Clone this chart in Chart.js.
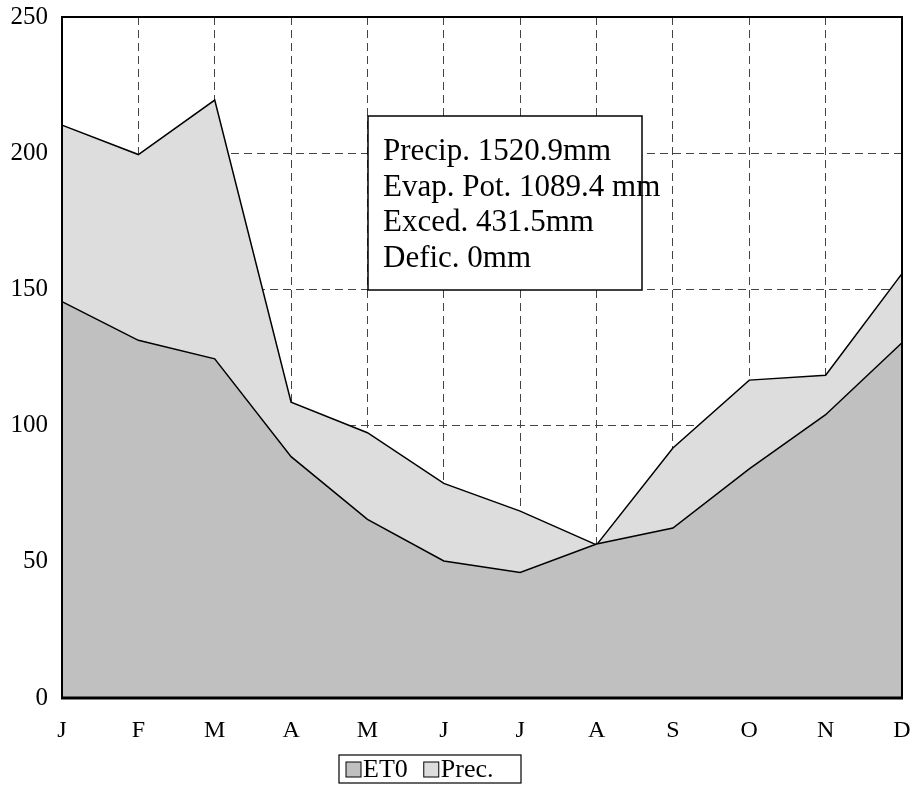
<!DOCTYPE html>
<html>
<head>
<meta charset="utf-8">
<script src="https://cdn.jsdelivr.net/npm/chart.js@4/dist/chart.umd.min.js"></script>
<style>
  html,body{margin:0;padding:0;background:#fff;}
  #wrap{width:913px;height:793px;position:relative;}
</style>
</head>
<body>
<div id="wrap"><canvas id="balanceChart"></canvas></div>
<script>
const months=['J','F','M','A','M','J','J','A','S','O','N','D'];
const et0=[145.5,131.3,124.5,88.6,65.6,50.3,46.1,56.5,62.4,84.1,104.0,130.4];
const prec=[210.3,199.5,219.5,108.6,97.4,78.8,68.6,56.2,91.8,116.7,118.5,155.8];
const yTicks=[0,50,100,150,200,250];
const summaryLines=['Precip. 1520.9mm','Evap. Pot. 1089.4 mm','Exced. 431.5mm','Defic. 0mm'];

const serif='"Liberation Serif", "Times New Roman", serif';

// plot frame, summary box and boxed legend
const extras={
  id:'extras',
  afterDatasetsDraw(chart){
    const {ctx,chartArea:a}=chart;
    ctx.save();
    ctx.strokeStyle='#000';
    ctx.lineWidth=2;
    ctx.strokeRect(a.left,a.top,a.right-a.left,a.bottom-a.top);
    ctx.lineWidth=3;
    ctx.beginPath();ctx.moveTo(a.left-1,a.bottom);ctx.lineTo(a.right+1,a.bottom);ctx.stroke();

    // summary box
    const bx=368,by=116,bw=274,bh=174;
    ctx.fillStyle='#fff';
    ctx.fillRect(bx,by,bw,bh);
    ctx.lineWidth=1.5;
    ctx.strokeRect(bx,by,bw,bh);
    ctx.fillStyle='#000';
    ctx.font='31px '+serif;
    ctx.textBaseline='alphabetic';
    summaryLines.forEach((t,i)=>ctx.fillText(t,bx+15,by+44+i*35.5));

    // legend
    const lx=339,ly=755,lw=182,lh=28;
    ctx.lineWidth=1.2;
    ctx.strokeRect(lx,ly,lw,lh);
    ctx.font='26px '+serif;
    ctx.textBaseline='middle';
    let x=lx+7;
    chart.data.datasets.forEach(ds=>{
      ctx.fillStyle=ds.backgroundColor;
      ctx.fillRect(x,ly+7,15,15);
      ctx.lineWidth=1;
      ctx.strokeRect(x,ly+7,15,15);
      ctx.fillStyle='#000';
      ctx.fillText(ds.label,x+17,ly+15);
      x+=17+ctx.measureText(ds.label).width+16;
    });
    ctx.restore();
  }
};

new Chart(document.getElementById('balanceChart'),{
  type:'line',
  data:{
    labels:months,
    datasets:[
      {label:'ET0',data:et0,backgroundColor:'#c0c0c0',borderColor:'#000',borderWidth:1.5,pointRadius:0,tension:0,fill:'origin'},
      {label:'Prec.',data:prec,backgroundColor:'#dddddd',borderColor:'#000',borderWidth:1.5,pointRadius:0,tension:0,fill:'origin'}
    ]
  },
  options:{
    responsive:true,
    maintainAspectRatio:false,
    animation:false,
    layout:{padding:{top:17,right:11,left:0,bottom:55}},
    plugins:{legend:{display:false},tooltip:{enabled:false}},
    scales:{
      x:{
        offset:false,
        grid:{color:'#444',lineWidth:1,drawTicks:false},
        border:{display:false,dash:[8,5]},
        ticks:{color:'#000',font:{family:serif,size:24},padding:18,maxRotation:0,autoSkip:false},
        afterFit(s){s.height=40;s.paddingLeft=0;s.paddingRight=0;}
      },
      y:{
        min:0,max:250,
        afterBuildTicks(s){s.ticks=yTicks.map(v=>({value:v}));},
        grid:{color:'#444',lineWidth:1,drawTicks:false},
        border:{display:false,dash:[8,5]},
        ticks:{color:'#000',font:{family:serif,size:25},padding:14},
        afterFit(s){s.width=62;s.paddingTop=0;s.paddingBottom=0;}
      }
    }
  },
  plugins:[extras]
});
</script>
</body>
</html>
